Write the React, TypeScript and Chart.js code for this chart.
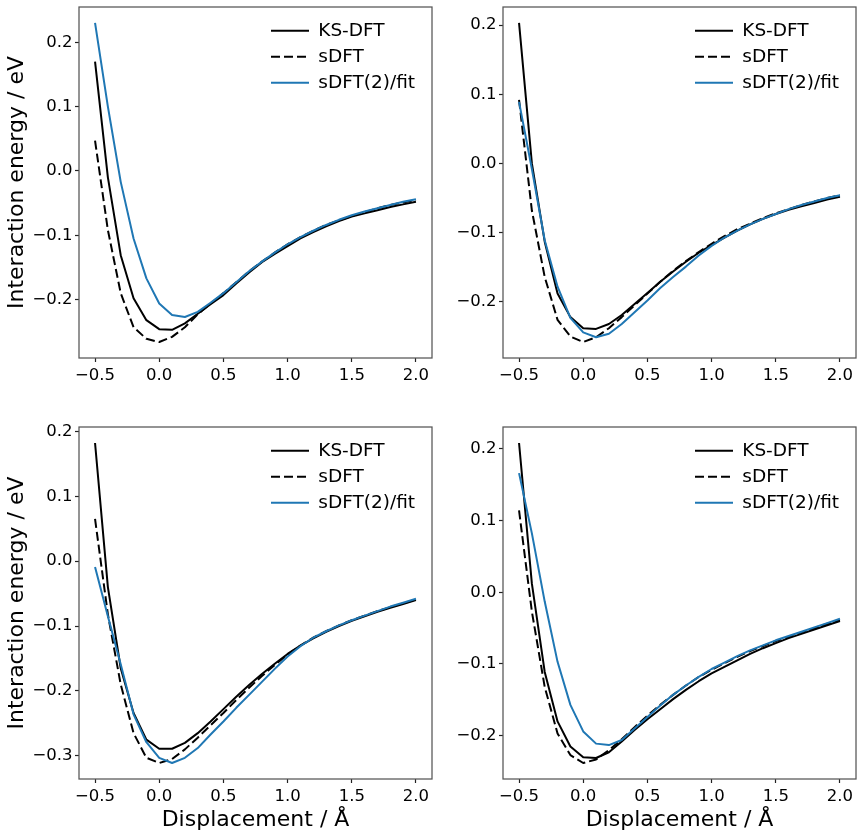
import { useEffect, useRef } from "react"
import { Chart, registerables } from "chart.js"

Chart.register(...registerables)

const displacement = [
  -0.5, -0.4, -0.3, -0.2, -0.1, 0.0, 0.1, 0.2, 0.3, 0.4, 0.5, 0.6, 0.7, 0.8, 0.9, 1.0, 1.1, 1.2, 1.3, 1.4,
  1.5, 1.6, 1.7, 1.8, 1.9, 2.0,
]
const xTicks = [-0.5, 0.0, 0.5, 1.0, 1.5, 2.0]
const seriesLabels = ["KS-DFT", "sDFT", "sDFT(2)/fit"]

// top left
const ksDftA = [
  0.17, -0.01, -0.131, -0.198, -0.232, -0.246, -0.247, -0.237, -0.222, -0.207, -0.193, -0.175, -0.158, -0.142,
  -0.129, -0.117, -0.105, -0.095, -0.086, -0.078, -0.071, -0.066, -0.061, -0.056, -0.052, -0.048,
]
const sDftA = [
  0.047, -0.092, -0.19, -0.243, -0.261, -0.266, -0.258, -0.243, -0.223, -0.206, -0.19, -0.173, -0.156, -0.141,
  -0.127, -0.114, -0.103, -0.093, -0.084, -0.077, -0.07, -0.064, -0.058, -0.053, -0.049, -0.045,
]
const fitA = [
  0.23, 0.1, -0.017, -0.105, -0.167, -0.206, -0.224, -0.227, -0.219, -0.205, -0.19, -0.173, -0.156, -0.141,
  -0.127, -0.114, -0.103, -0.093, -0.084, -0.076, -0.069, -0.063, -0.058, -0.053, -0.048, -0.044,
]
const yTicksA = [-0.2, -0.1, 0.0, 0.1, 0.2]

// top right
const ksDftB = [
  0.203, 0.0, -0.113, -0.188, -0.222, -0.238, -0.239, -0.232, -0.219, -0.203, -0.187, -0.171, -0.156, -0.142,
  -0.129, -0.118, -0.107, -0.097, -0.088, -0.08, -0.073, -0.067, -0.062, -0.057, -0.052, -0.048,
]
const sDftB = [
  0.092, -0.068, -0.164, -0.226, -0.25, -0.258, -0.251, -0.238, -0.222, -0.205, -0.188, -0.171, -0.155, -0.141,
  -0.128, -0.116, -0.105, -0.095, -0.087, -0.079, -0.072, -0.066, -0.06, -0.055, -0.05, -0.046,
]
const fitB = [
  0.089, -0.008, -0.111, -0.178, -0.223, -0.244, -0.251, -0.246, -0.232, -0.215, -0.198, -0.18, -0.164, -0.149,
  -0.133, -0.119, -0.107, -0.097, -0.088, -0.08, -0.073, -0.066, -0.06, -0.055, -0.05, -0.046,
]
const yTicksB = [-0.2, -0.1, 0.0, 0.1, 0.2]

// bottom left
const ksDftC = [
  0.182, -0.04, -0.165, -0.234, -0.275, -0.289, -0.289, -0.28, -0.265, -0.247, -0.228, -0.209, -0.191, -0.174,
  -0.158, -0.143, -0.13, -0.119, -0.109, -0.1, -0.092, -0.085, -0.078, -0.072, -0.066, -0.06,
]
const sDftC = [
  0.065, -0.082, -0.19, -0.265, -0.303, -0.311, -0.305, -0.29, -0.272, -0.253, -0.234, -0.214, -0.195, -0.177,
  -0.16, -0.144, -0.13, -0.118, -0.108, -0.099, -0.091, -0.084, -0.077, -0.071, -0.065, -0.059,
]
const fitC = [
  -0.009, -0.085, -0.159, -0.236, -0.279, -0.303, -0.311, -0.303, -0.288, -0.267, -0.247, -0.226, -0.206, -0.186,
  -0.166, -0.147, -0.131, -0.118, -0.108, -0.099, -0.091, -0.084, -0.077, -0.07, -0.064, -0.058,
]
const yTicksC = [-0.3, -0.2, -0.1, 0.0, 0.1, 0.2]

// bottom right
const ksDftD = [
  0.208, 0.012, -0.111, -0.18, -0.215, -0.23, -0.231, -0.223, -0.208, -0.192, -0.177, -0.163, -0.149, -0.136,
  -0.124, -0.113, -0.104, -0.095, -0.086, -0.078, -0.071, -0.064, -0.058, -0.052, -0.046, -0.04,
]
const sDftD = [
  0.114, -0.027, -0.132, -0.197, -0.227, -0.238, -0.233, -0.22, -0.205, -0.188, -0.172, -0.157, -0.143, -0.13,
  -0.118, -0.108, -0.099, -0.09, -0.082, -0.075, -0.068, -0.062, -0.056, -0.05, -0.044, -0.039,
]
const fitD = [
  0.166, 0.082, -0.013, -0.097, -0.157, -0.194, -0.211, -0.213, -0.206, -0.19, -0.174, -0.158, -0.143, -0.13,
  -0.118, -0.107, -0.098, -0.089, -0.081, -0.074, -0.067, -0.061, -0.055, -0.049, -0.043, -0.037,
]
const yTicksD = [-0.2, -0.1, 0.0, 0.1, 0.2]

const FONT = "'DejaVu Sans', Verdana, sans-serif"
const BLUE = "#1f77b4"

const fmt = (v: number) => {
  const s = v.toFixed(1)
  return s.startsWith("-") ? "\u2212" + s.slice(1) : s
}

// axes box on all four sides, like matplotlib spines
const framePlugin = {
  id: "frame",
  afterDatasetsDraw(chart: any) {
    const { ctx, chartArea: ca } = chart
    ctx.save()
    ctx.strokeStyle = "#555"
    ctx.lineWidth = 1.25
    ctx.strokeRect(ca.left, ca.top, ca.right - ca.left, ca.bottom - ca.top)
    ctx.restore()
  },
}

// move the legend to the upper right corner inside the axes
const legendPlacer = {
  id: "legendPlacer",
  beforeDraw(chart: any) {
    const lg = chart.legend
    const ca = chart.chartArea
    if (!lg || !ca) return
    const pad = lg.options.labels.padding
    lg.left = ca.right - 161 - pad
    lg.right = ca.right
    lg.top = ca.top + 14.5 - pad
    lg.bottom = ca.bottom
  },
}

// keep the scales from pushing the plot area around for label overhang
const noOverhang = (scale: any) => {
  scale.paddingTop = 0
  scale.paddingBottom = 0
  scale.paddingLeft = 0
  scale.paddingRight = 0
}

type PanelProps = {
  ks: number[]
  sdft: number[]
  fit: number[]
  yTicks: number[]
  row: number
  col: number
}

function Panel({ ks, sdft, fit, yTicks, row, col }: PanelProps) {
  const chartRef = useRef<HTMLCanvasElement>(null)

  const width = col === 0 ? 440 : 423
  const height = row === 0 ? 410 : 420

  useEffect(() => {
    if (!chartRef.current) return

    const all = [...ks, ...sdft, ...fit]
    const lo = Math.min(...all)
    const hi = Math.max(...all)
    const yPad = (hi - lo) * 0.05
    const xLo = displacement[0]
    const xHi = displacement[displacement.length - 1]
    const xPad = (xHi - xLo) * 0.05
    const toPoints = (ys: number[]) => displacement.map((x, i) => ({ x, y: ys[i] }))

    const chart = new Chart(chartRef.current, {
      type: "line",
      data: {
        datasets: [
          {
            label: seriesLabels[0],
            data: toPoints(ks),
            borderColor: "#000",
            backgroundColor: "#000",
            borderWidth: 2,
            order: 3,
          },
          {
            label: seriesLabels[1],
            data: toPoints(sdft),
            borderColor: "#000",
            backgroundColor: "#000",
            borderWidth: 2,
            borderDash: [9, 4],
            order: 2,
          },
          {
            label: seriesLabels[2],
            data: toPoints(fit),
            borderColor: BLUE,
            backgroundColor: BLUE,
            borderWidth: 2,
            order: 1,
          },
        ],
      },
      options: {
        animation: false,
        responsive: false,
        events: [],
        elements: {
          point: { radius: 0 },
          line: { tension: 0, borderJoinStyle: "round" },
        },
        layout: { padding: { top: 7, right: col === 0 ? 8 : 7, left: 0, bottom: 0 } },
        scales: {
          x: {
            type: "linear",
            min: xLo - xPad,
            max: xHi + xPad,
            afterBuildTicks: (scale: any) => {
              scale.ticks = xTicks.map((value) => ({ value }))
            },
            afterFit: (scale: any) => {
              scale.height = row === 0 ? 52 : 61
              noOverhang(scale)
            },
            grid: { drawOnChartArea: false, drawTicks: true, tickLength: 4, color: "#222", tickWidth: 1.2 },
            border: { display: false },
            ticks: {
              color: "#000",
              padding: 3.5,
              maxRotation: 0,
              font: { family: FONT, size: 16.5 },
              callback: (value: any) => fmt(Number(value)),
            },
            title: {
              display: row === 1,
              text: "Displacement / Å",
              color: "#000",
              font: { family: FONT, size: 22 },
              padding: { top: 0, bottom: 7 },
            },
          },
          y: {
            type: "linear",
            min: lo - yPad,
            max: hi + yPad,
            afterBuildTicks: (scale: any) => {
              scale.ticks = yTicks.map((value) => ({ value }))
            },
            afterFit: (scale: any) => {
              scale.width = col === 0 ? 79 : 63
              noOverhang(scale)
            },
            grid: { drawOnChartArea: false, drawTicks: true, tickLength: 4, color: "#222", tickWidth: 1.2 },
            border: { display: false },
            ticks: {
              color: "#000",
              padding: 2.5,
              font: { family: FONT, size: 16.5 },
              callback: (value: any) => fmt(Number(value)),
            },
            title: {
              display: col === 0,
              text: "Interaction energy / eV",
              color: "#000",
              font: { family: FONT, size: 22 },
              padding: { top: 4, bottom: 0 },
            },
          },
        },
        plugins: {
          tooltip: { enabled: false },
          legend: {
            position: "chartArea",
            align: "start",
            labels: {
              usePointStyle: true,
              pointStyle: "line",
              pointStyleWidth: 38,
              padding: 7.5,
              color: "#000",
              font: { family: FONT, size: 18.5 },
              generateLabels: (c: any) =>
                c.data.datasets.map((ds: any, i: number) => ({
                  text: ds.label,
                  fillStyle: ds.borderColor,
                  strokeStyle: ds.borderColor,
                  fontColor: "#000",
                  lineWidth: ds.borderWidth,
                  lineDash: ds.borderDash || [],
                  lineCap: "butt",
                  pointStyle: "line",
                  hidden: false,
                  datasetIndex: i,
                })),
            },
          },
        },
      } as any,
      plugins: [framePlugin, legendPlacer],
    })

    return () => {
      chart.destroy()
    }
  }, [ks, sdft, fit, yTicks, row, col])

  return (
    <div
      style={{
        position: "absolute",
        left: col === 0 ? 0 : 440,
        top: row === 0 ? 0 : 420,
        width,
        height,
      }}
    >
      <canvas ref={chartRef} width={width} height={height} style={{ width, height, display: "block" }} />
    </div>
  )
}

export default function App() {
  return (
    <div style={{ position: "absolute", left: 0, top: 0, width: 863, height: 840, background: "#fff" }}>
      <Panel ks={ksDftA} sdft={sDftA} fit={fitA} yTicks={yTicksA} row={0} col={0} />
      <Panel ks={ksDftB} sdft={sDftB} fit={fitB} yTicks={yTicksB} row={0} col={1} />
      <Panel ks={ksDftC} sdft={sDftC} fit={fitC} yTicks={yTicksC} row={1} col={0} />
      <Panel ks={ksDftD} sdft={sDftD} fit={fitD} yTicks={yTicksD} row={1} col={1} />
    </div>
  )
}
